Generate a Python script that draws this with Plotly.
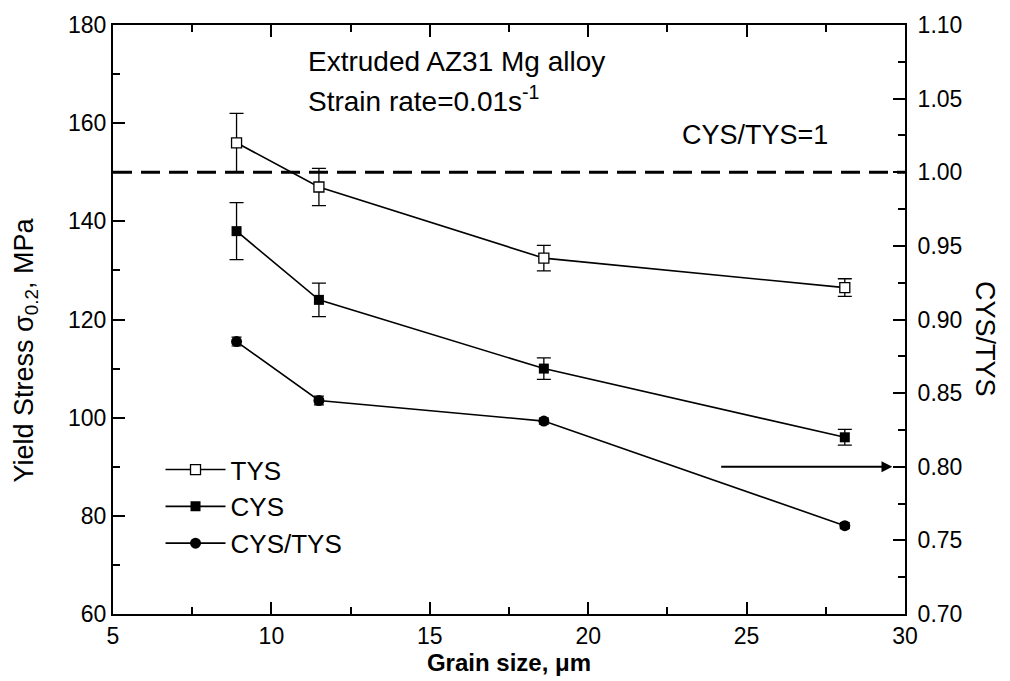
import plotly.graph_objects as go

grain = [8.9, 11.5, 18.6, 28.1]
tys = [156.0, 147.0, 132.5, 126.5]
tys_err = [6.0, 3.8, 2.6, 1.8]
cys = [138.0, 124.0, 110.0, 96.0]
cys_err = [5.8, 3.4, 2.2, 1.6]
ratio = [0.885, 0.845, 0.831, 0.760]
ratio_err = [0.003, 0.003, 0.002, 0.002]
ref_x = [5, 30]
ref_ratio = [1.0, 1.0]

FONT = "Liberation Sans, Arial, sans-serif"
fig = go.Figure()

fig.add_trace(go.Scatter(x=ref_x, y=ref_ratio, yaxis="y2", mode="lines",
                         line=dict(color="black", width=3, dash="19px,9px"),
                         showlegend=False, hoverinfo="skip"))

fig.add_trace(go.Scatter(x=grain, y=tys, name="TYS", mode="lines+markers",
                         line=dict(color="black", width=1.6),
                         marker=dict(symbol="square", size=10, color="white",
                                     line=dict(color="black", width=1.3)),
                         error_y=dict(type="data", array=tys_err, color="black",
                                      thickness=1.3, width=7)))
fig.add_trace(go.Scatter(x=grain, y=cys, name="CYS", mode="lines+markers",
                         line=dict(color="black", width=1.6),
                         marker=dict(symbol="square", size=10, color="black"),
                         error_y=dict(type="data", array=cys_err, color="black",
                                      thickness=1.3, width=7)))
fig.add_trace(go.Scatter(x=grain, y=ratio, name="CYS/TYS", yaxis="y2",
                         mode="lines+markers",
                         line=dict(color="black", width=1.6),
                         marker=dict(symbol="circle", size=11, color="black"),
                         error_y=dict(type="data", array=ratio_err, color="black",
                                      thickness=1.2, width=5)))

axis_common = dict(showgrid=False, zeroline=False, showline=True, linecolor="black",
                   linewidth=2, ticks="inside", tickcolor="black", tickwidth=1.5,
                   ticklen=12, tickfont=dict(family=FONT, size=23, color="black"))

fig.update_layout(
    width=1010, height=681,
    margin=dict(l=113, r=105, t=22, b=66),
    paper_bgcolor="white", plot_bgcolor="white",
    font=dict(family=FONT, color="black"),
    xaxis=dict(range=[5, 30], dtick=5, mirror="ticks",
               minor=dict(dtick=2.5, ticks="inside", ticklen=7, tickcolor="black"),
               title=dict(text="<b>Grain size, μm</b>", font=dict(size=24, family=FONT), standoff=4),
               **axis_common),
    yaxis=dict(range=[60, 180], dtick=20, mirror=False,
               minor=dict(dtick=10, ticks="inside", ticklen=7, tickcolor="black"),
               **axis_common),
    yaxis2=dict(range=[0.7, 1.1], dtick=0.05, tickformat=".2f", overlaying="y", side="right",
                minor=dict(dtick=0.025, ticks="inside", ticklen=7, tickcolor="black"),
                ticklabelstandoff=6,
                **axis_common),
    legend=dict(x=0.06, y=0.285, xanchor="left", yanchor="top",
                bgcolor="rgba(0,0,0,0)", font=dict(size=26, family=FONT),
                tracegroupgap=0, itemwidth=60),
    showlegend=True,
)

fig.add_annotation(x=11.1, y=172.5, xref="x", yref="y", text="Extruded AZ31 Mg alloy",
                   showarrow=False, xanchor="left", yanchor="middle",
                   font=dict(size=28, family=FONT))
fig.add_annotation(x=11.1, y=165.0, xref="x", yref="y", text="Strain rate=0.01s<sup>-1</sup>",
                   showarrow=False, xanchor="left", yanchor="middle",
                   font=dict(size=28, family=FONT))
fig.add_annotation(x=22.9, y=157.5, xref="x", yref="y", text="CYS/TYS=1",
                   showarrow=False, xanchor="left", yanchor="middle",
                   font=dict(size=27, family=FONT))
fig.add_annotation(x=29.6, y=0.80, xref="x", yref="y2", ax=24.15, ay=0.80,
                   axref="x", ayref="y2", text="", showarrow=True,
                   arrowhead=2, arrowsize=1.2, arrowwidth=1.8, arrowcolor="black")
fig.add_annotation(x=-0.111, y=0.219, xref="paper", yref="paper",
                   text="Yield Stress σ<sub>0.2</sub>, MPa", textangle=-90,
                   xanchor="center", yanchor="bottom", showarrow=False,
                   font=dict(size=27, family=FONT))
fig.add_annotation(x=1.101, y=0.467, xref="paper", yref="paper", text="CYS/TYS",
                   textangle=90, xanchor="center", yanchor="middle", showarrow=False,
                   font=dict(size=27, family=FONT))

fig.write_html("out.html")
